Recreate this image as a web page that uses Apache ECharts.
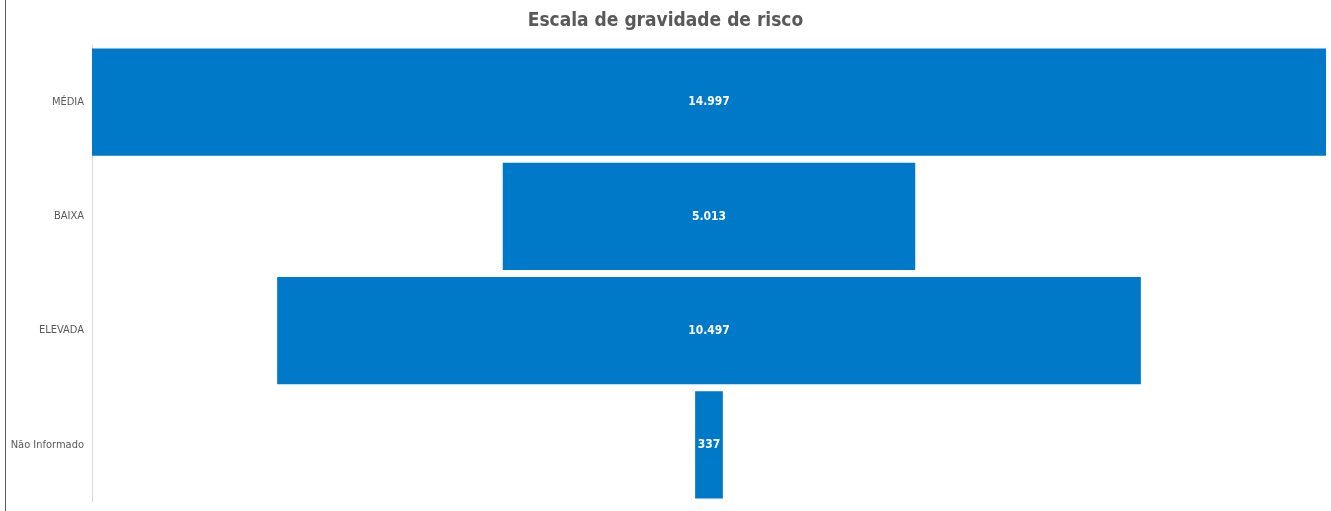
<!DOCTYPE html>
<html lang="pt">
<head>
  <meta charset="UTF-8">
  <title>Escala de gravidade de risco</title>
  <script src="https://cdn.jsdelivr.net/npm/echarts@6/dist/echarts.min.js"></script>
</head>
<body style="margin:0">
<div id="main" style="width:1331px;height:511px"></div>
<script type="text/javascript">
  var categories = ['MÉDIA', 'BAIXA', 'ELEVADA', 'Não Informado'];
  var values = [14997, 5013, 10497, 337];

  var maxVal = Math.max.apply(null, values);
  // offset invisivel para centrar as barras (funil)
  var offsets = values.map(function (v) { return (maxVal - v) / 2; });

  var narrow = '"DejaVu Sans Condensed", "Liberation Sans Narrow", "Roboto Condensed", sans-serif';

  var myChart = echarts.init(document.getElementById('main'));
  var option = {
    animation: false,
    title: {
      text: 'Escala de gravidade de risco',
      left: 'center',
      top: 7,
      textStyle: {
        fontFamily: narrow,
        fontSize: 19,
        fontWeight: 'bold',
        color: '#595959'
      }
    },
    grid: {
      left: 92,
      right: 5,
      top: 45,
      bottom: 9,
      outerBoundsMode: 'none',
      containLabel: false
    },
    xAxis: {
      type: 'value',
      min: 0,
      max: maxVal,
      show: false
    },
    yAxis: {
      type: 'category',
      inverse: true,
      data: categories,
      axisTick: { show: false },
      axisLine: { show: true, lineStyle: { color: '#d9d9d9' } },
      axisLabel: {
        color: '#595959',
        fontFamily: narrow,
        fontSize: 11,
        margin: 8
      }
    },
    graphic: [{
      type: 'rect',
      shape: { x: 5, y: 0, width: 1, height: 511 },
      style: { fill: '#595959' }
    }],
    series: [
      {
        type: 'bar',
        stack: 'funil',
        silent: true,
        itemStyle: { color: 'transparent' },
        data: offsets
      },
      {
        type: 'bar',
        stack: 'funil',
        barCategoryGap: '6%',
        itemStyle: { color: '#0079C8' },
        label: {
          show: true,
          position: 'inside',
          color: '#ffffff',
          fontFamily: narrow,
          fontWeight: 'bold',
          fontSize: 12,
          formatter: function (p) {
            return String(p.value).replace(/\B(?=(\d{3})+(?!\d))/g, '.');
          }
        },
        data: values
      }
    ]
  };
  option && myChart.setOption(option);
</script>
</body>
</html>
